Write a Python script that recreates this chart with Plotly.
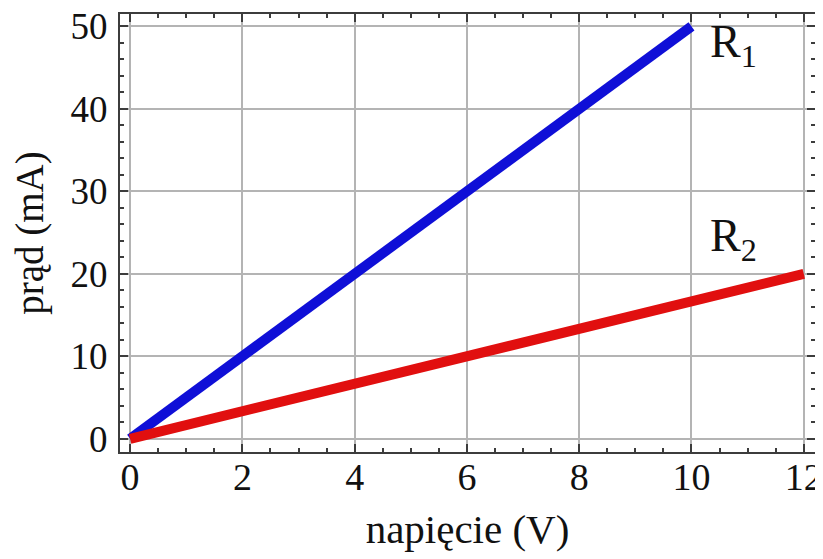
import plotly.graph_objects as go

# Data
voltage_R1 = [0, 10]
current_R1 = [0, 50]
voltage_R2 = [0, 12]
current_R2 = [0, 20]
x_ticks = [0, 2, 4, 6, 8, 10, 12]
y_ticks = [0, 10, 20, 30, 40, 50]
labels = ["R<sub>1</sub>", "R<sub>2</sub>"]
label_pos = [(10.3, 47.8), (10.3, 24.2)]

FONT = "Liberation Serif"
TXT = "#111111"

fig = go.Figure()
fig.add_trace(go.Scatter(x=voltage_R1, y=current_R1, mode="lines",
                         line=dict(color="rgb(15,15,215)", width=10), showlegend=False))
fig.add_trace(go.Scatter(x=voltage_R2, y=current_R2, mode="lines",
                         line=dict(color="rgb(225,15,15)", width=10), showlegend=False))

for txt, (lx, ly) in zip(labels, label_pos):
    fig.add_annotation(x=lx, y=ly, text=txt, showarrow=False, xanchor="left", yanchor="middle",
                       font=dict(family=FONT, size=46, color=TXT))

axis_common = dict(
    showline=True, linecolor="#3c3c3c", linewidth=2, mirror="allticks",
    showgrid=True, gridcolor="#b4b4b4", gridwidth=2,
    ticks="inside", ticklen=8, tickwidth=2, tickcolor="#3c3c3c",
    zeroline=False, automargin=False, ticklabeloverflow="allow",
)

fig.update_xaxes(range=[-0.18, 12.2], tickvals=x_ticks, ticklabelstandoff=-10,
                 tickfont=dict(family=FONT, size=38, color=TXT),
                 minor=dict(dtick=0.5, ticks="inside", ticklen=4, tickwidth=2, tickcolor="#3c3c3c", showgrid=False),
                 title=dict(text="napięcie (V)", font=dict(family=FONT, size=41, color=TXT), standoff=18),
                 **axis_common)
fig.update_yaxes(range=[-1.6, 51.5], tickvals=y_ticks, ticklabelstandoff=3,
                 tickfont=dict(family=FONT, size=37, color=TXT),
                 minor=dict(dtick=2, ticks="inside", ticklen=4, tickwidth=2, tickcolor="#3c3c3c", showgrid=False),
                 title=dict(text="prąd (mA)", font=dict(family=FONT, size=39, color=TXT), standoff=24),
                 **axis_common)

fig.update_layout(
    width=815, height=551,
    margin=dict(l=112, r=8, t=6, b=107),
    plot_bgcolor="white", paper_bgcolor="white",
)

fig.write_html("out.html")
